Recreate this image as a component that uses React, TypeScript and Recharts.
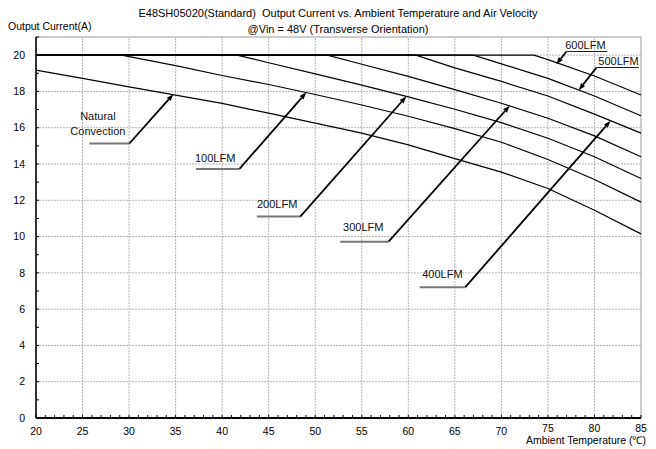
import React from 'react';
import { LineChart, Line, XAxis, YAxis, ReferenceLine, ReferenceArea, ReferenceDot } from 'recharts';

// Ambient temperature (°C) / output current (A) per air velocity
const naturalTemp = [20, 25, 30, 35, 40, 45, 50, 55, 60, 65, 70, 75, 80, 85];
const naturalAmps = [19.17, 18.72, 18.25, 17.8, 17.34, 16.8, 16.25, 15.7, 15.05, 14.3, 13.55, 12.65, 11.45, 10.15];

const lfm100Temp = [20, 29.2, 35, 40, 45, 50, 55, 60, 65, 70, 75, 80, 85];
const lfm100Amps = [20, 20, 19.42, 18.88, 18.38, 17.83, 17.25, 16.63, 15.95, 15.2, 14.25, 13.15, 11.9];

const lfm200Temp = [20, 41.6, 45, 50, 55, 60, 65, 70, 75, 80, 85];
const lfm200Amps = [20, 20, 19.58, 18.97, 18.35, 17.7, 17.02, 16.28, 15.42, 14.4, 13.2];

const lfm300Temp = [20, 51.3, 55, 60, 65, 70, 75, 80, 85];
const lfm300Amps = [20, 20, 19.5, 18.83, 18.1, 17.35, 16.52, 15.55, 14.4];

const lfm400Temp = [20, 60.8, 65, 70, 75, 80, 85];
const lfm400Amps = [20, 20, 19.3, 18.55, 17.75, 16.75, 15.7];

const lfm500Temp = [20, 67, 70, 75, 80, 85];
const lfm500Amps = [20, 20, 19.52, 18.72, 17.75, 16.66];

const lfm600Temp = [20, 73.5, 75, 80, 85];
const lfm600Amps = [20, 20, 19.75, 18.85, 17.8];

// axis ticks
const xMajorTicks = [20, 25, 30, 35, 40, 45, 50, 55, 60, 65, 70, 75, 80, 85];
const yMajorTicks = [0, 2, 4, 6, 8, 10, 12, 14, 16, 18, 20];
const xMinorTicks = Array.from({ length: 66 }, (_, i) => 20 + i);
const yMinorTicks = Array.from({ length: 22 }, (_, i) => i);

// curve labels: text anchor, underline and arrow (data coordinates)
const annotations = [
  { lines: ['Natural', 'Convection'], tx: 26.65, ty: 15.83, ux1: 25.73, ux2: 30.03, uy: 15.13, fromLeft: false, ax: 34.76, ay: 17.85, thin: false },
  { lines: ['100LFM'], tx: 39.25, ty: 14.31, ux1: 37.2, ux2: 41.86, uy: 13.73, fromLeft: false, ax: 49.03, ay: 17.94, thin: false },
  { lines: ['200LFM'], tx: 45.91, ty: 11.76, ux1: 43.73, ux2: 48.39, uy: 11.1, fromLeft: false, ax: 59.78, ay: 17.72, thin: false },
  { lines: ['300LFM'], tx: 55.16, ty: 10.51, ux1: 52.69, ux2: 57.88, uy: 9.72, fromLeft: false, ax: 70.89, ay: 17.21, thin: false },
  { lines: ['400LFM'], tx: 63.66, ty: 7.95, ux1: 61.22, ux2: 66.13, uy: 7.21, fromLeft: false, ax: 81.72, ay: 16.38, thin: false },
  { lines: ['600LFM'], tx: 79.03, ty: 20.57, ux1: 76.99, ux2: 81.37, uy: 20.2, fromLeft: true, ax: 75.91, ay: 19.5, thin: true },
  { lines: ['500LFM'], tx: 82.58, ty: 19.69, ux1: 80.22, ux2: 84.77, uy: 19.32, fromLeft: true, ax: 78.31, ay: 18.07, thin: true },
];

const series = [
  { name: 'natural', temp: naturalTemp, amps: naturalAmps },
  { name: '100LFM', temp: lfm100Temp, amps: lfm100Amps },
  { name: '200LFM', temp: lfm200Temp, amps: lfm200Amps },
  { name: '300LFM', temp: lfm300Temp, amps: lfm300Amps },
  { name: '400LFM', temp: lfm400Temp, amps: lfm400Amps },
  { name: '500LFM', temp: lfm500Temp, amps: lfm500Amps },
  { name: '600LFM', temp: lfm600Temp, amps: lfm600Amps },
];

const FONT = 'Arial, "Liberation Sans", sans-serif';
const GRID = '#b4b4b4';

const XTick = (props: any) => {
  const { x, y, payload } = props;
  const v = payload.value;
  const raised = v >= 75 ? -3 : 0;
  return (
    <g>
      <line x1={x} y1={y} x2={x} y2={y - 3} stroke="#000" strokeWidth={1} />
      {v % 5 === 0 && (
        <text x={x} y={y + 17 + raised} textAnchor="middle" fontSize={10.5} fontFamily={FONT} fill="#000">
          {v}
        </text>
      )}
    </g>
  );
};

const YTick = (props: any) => {
  const { x, y, payload } = props;
  const v = payload.value;
  return (
    <g>
      <line x1={x} y1={y} x2={x + 3} y2={y} stroke="#000" strokeWidth={1} />
      {v % 2 === 0 && v <= 20 && (
        <text x={x - 11} y={y} dy="0.35em" textAnchor="end" fontSize={10.5} fontFamily={FONT} fill="#000">
          {v}
        </text>
      )}
    </g>
  );
};

const arrowShape = (p: any) => {
  const { x1, y1, x2, y2 } = p;
  const ang = Math.atan2(y2 - y1, x2 - x1);
  const len = 7;
  const half = 2.6;
  const bx = x2 - len * Math.cos(ang);
  const by = y2 - len * Math.sin(ang);
  const px = -Math.sin(ang) * half;
  const py = Math.cos(ang) * half;
  return (
    <g>
      <line x1={x1} y1={y1} x2={bx} y2={by} stroke="#000" strokeWidth={1.8} />
      <polygon points={`${x2},${y2} ${bx + px},${by + py} ${bx - px},${by - py}`} fill="#000" />
    </g>
  );
};

const textShape = (lines: string[]) => (p: any) => {
  const { cx, cy } = p;
  return (
    <g>
      {lines.map((s, i) => (
        <text
          key={s}
          x={cx}
          y={cy - (lines.length - 1 - i) * 14.5}
          dy="0.35em"
          textAnchor="middle"
          fontSize={11}
          fontFamily={FONT}
          fill="#111"
        >
          {s}
        </text>
      ))}
    </g>
  );
};

export default function App() {
  return (
    <div style={{ position: 'absolute', left: 0, top: 0, width: 656, height: 449, background: '#fff' }}>
      <LineChart width={656} height={449} margin={{ top: 37, right: 15, bottom: 11, left: 16 }}>
        <XAxis
          type="number"
          dataKey="t"
          domain={[20, 85]}
          ticks={xMinorTicks}
          interval={0}
          tickSize={0}
          tickMargin={0}
          tickLine={false}
          tick={<XTick />}
          height={20}
          axisLine={{ stroke: '#000', strokeWidth: 2 }}
          allowDuplicatedCategory={false}
        />
        <YAxis
          type="number"
          dataKey="a"
          domain={[0, 21]}
          ticks={yMinorTicks}
          interval={0}
          tickSize={0}
          tickMargin={0}
          tickLine={false}
          tick={<YTick />}
          width={20}
          axisLine={{ stroke: '#333', strokeWidth: 2 }}
        />
        <ReferenceArea x1={20} x2={85} y1={0} y2={21} fill="none" stroke="#999" strokeWidth={1} />
        {xMajorTicks.slice(1, -1).map((v) => (
          <ReferenceLine key={`gx${v}`} x={v} stroke={GRID} strokeDasharray="2 1" strokeWidth={1} />
        ))}
        {yMajorTicks.slice(1).map((v) => (
          <ReferenceLine key={`gy${v}`} y={v} stroke={GRID} strokeDasharray="2 1" strokeWidth={1} />
        ))}
        {series.map((s) => (
          <Line
            key={s.name}
            data={s.temp.map((t, i) => ({ t, a: s.amps[i] }))}
            dataKey="a"
            type="linear"
            stroke="#000"
            strokeWidth={1.2}
            dot={false}
            activeDot={false}
            isAnimationActive={false}
          />
        ))}
        {annotations.map((n) => (
          <ReferenceLine
            key={`u${n.lines[0]}`}
            segment={[{ x: n.ux1, y: n.uy }, { x: n.ux2, y: n.uy }]}
            stroke={n.thin ? '#222' : '#777'}
            strokeWidth={n.thin ? 1.2 : 2}
          />
        ))}
        {annotations.map((n) => (
          <ReferenceLine
            key={`a${n.lines[0]}`}
            segment={[{ x: n.fromLeft ? n.ux1 : n.ux2, y: n.uy }, { x: n.ax, y: n.ay }]}
            shape={arrowShape}
          />
        ))}
        {annotations.map((n) => (
          <ReferenceDot key={`t${n.lines[0]}`} x={n.tx} y={n.ty} r={0} shape={textShape(n.lines)} />
        ))}
      </LineChart>
      <svg width={656} height={449} style={{ position: 'absolute', left: 0, top: 0, pointerEvents: 'none' }}>
        <text x={338} y={13} dy="0.35em" textAnchor="middle" fontSize={11} fontFamily={FONT} fill="#000" style={{ whiteSpace: 'pre' }}>
          {'E48SH05020(Standard)  Output Current vs. Ambient Temperature and Air Velocity'}
        </text>
        <text x={338} y={29} dy="0.35em" textAnchor="middle" fontSize={11} fontFamily={FONT} fill="#000">
          @Vin = 48V (Transverse Orientation)
        </text>
        <text x={8} y={26} dy="0.35em" textAnchor="start" fontSize={10.5} fontFamily={FONT} fill="#000">
          Output Current(A)
        </text>
        <text x={646} y={440} dy="0.35em" textAnchor="end" fontSize={10.5} fontFamily={FONT} fill="#000">
          Ambient Temperature (℃)
        </text>
      </svg>
    </div>
  );
}
